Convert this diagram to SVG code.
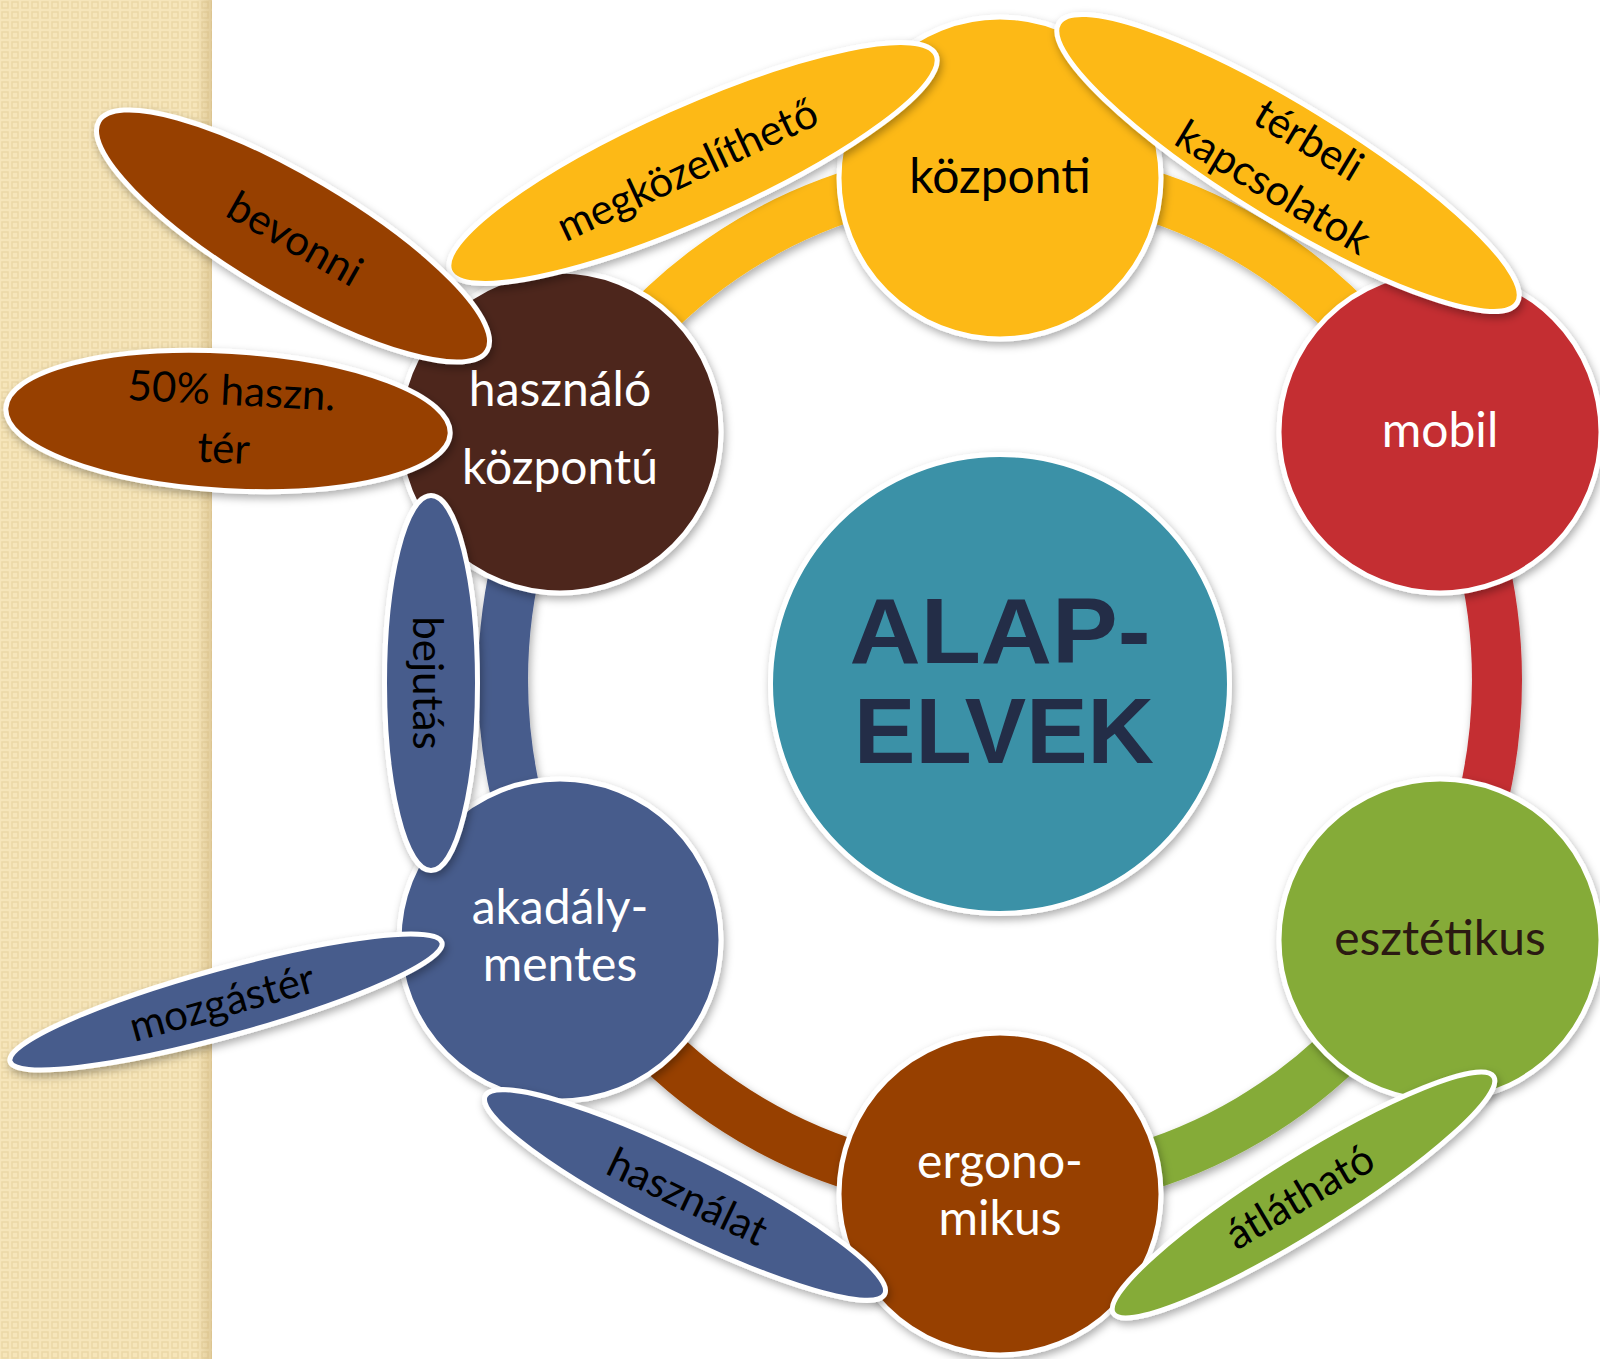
<svg xmlns="http://www.w3.org/2000/svg" width="1600" height="1359" viewBox="0 0 1600 1359">
<defs>
  <pattern id="weave" width="10" height="10" patternUnits="userSpaceOnUse">
    <rect width="10" height="10" fill="#F6E5BA"/>
    <rect x="2" y="2" width="6" height="6" fill="none" stroke="#ECD8A6" stroke-width="1.5"/>
  </pattern>
  <linearGradient id="edge" x1="0" x2="1" y1="0" y2="0">
    <stop offset="0" stop-color="#B99A5C" stop-opacity="0"/>
    <stop offset="1" stop-color="#B99A5C" stop-opacity="0.35"/>
  </linearGradient>
  <filter id="sh" x="-20%" y="-20%" width="140%" height="140%">
    <feDropShadow dx="2" dy="4" stdDeviation="4" flood-color="#000" flood-opacity="0.32"/>
  </filter>
</defs>
<style>
  .node{stroke:#fff;stroke-width:5}
  .t{font-family:Lato,"Open Sans","DejaVu Sans",sans-serif;text-anchor:middle}
  .nt{font-size:48px}
  .st{font-size:42px;fill:#000}
  .arc{fill:none;stroke-width:50}
  .w{fill:#fff}
  .big{font-family:"Liberation Sans",Arial,sans-serif;font-weight:bold;font-size:92px;fill:#232D47;text-anchor:middle}
</style>

<rect width="1600" height="1359" fill="#fff"/>
<rect x="0" y="0" width="212" height="1359" fill="url(#weave)"/>
<rect x="196" y="0" width="16" height="1359" fill="url(#edge)"/>

<g id="connectors" filter="url(#sh)">
  <path class="arc" stroke="#FDB913" d="M569.59,426 A497,508 0 0 1 1000,172"/>
  <path class="arc" stroke="#FDB913" d="M1000,172 A497,508 0 0 1 1430.41,426"/>
  <path class="arc" stroke="#C42D32" d="M1430.41,426 A497,508 0 0 1 1430.41,934"/>
  <path class="arc" stroke="#85AB37" d="M1430.41,934 A497,508 0 0 1 1000,1188"/>
  <path class="arc" stroke="#974106" d="M1000,1188 A497,508 0 0 1 569.59,934"/>
  <path class="arc" stroke="#475B8C" d="M569.59,934 A497,508 0 0 1 569.59,426"/>
</g>

<g id="node-alapelvek">
  <circle class="node" cx="1000" cy="684" r="229.5" fill="#3A91A7" filter="url(#sh)"/>
  <text class="big" x="1000" y="663" textLength="301" lengthAdjust="spacingAndGlyphs">ALAP-</text>
  <text class="big" x="1004" y="763" textLength="300" lengthAdjust="spacingAndGlyphs">ELVEK</text>
</g>

<g id="node-kozponti">
  <circle class="node" cx="1000" cy="178" r="161" fill="#FDB913" filter="url(#sh)"/>
  <text class="t nt" x="1000" y="193" fill="#000" font-size="49">központi</text>
</g>
<g id="node-mobil">
  <circle class="node" cx="1440" cy="432" r="161" fill="#C42D32" filter="url(#sh)"/>
  <text class="t nt w" x="1440" y="447">mobil</text>
</g>
<g id="node-esztetikus">
  <circle class="node" cx="1440" cy="940" r="161" fill="#85AB37" filter="url(#sh)"/>
  <text class="t nt" x="1440" y="955" fill="#2B1A12">esztétikus</text>
</g>
<g id="node-ergonomikus">
  <circle class="node" cx="1000" cy="1194" r="161" fill="#974106" filter="url(#sh)"/>
  <text class="t nt w" x="1000" y="1178">ergono-</text>
  <text class="t nt w" x="1000" y="1235">mikus</text>
</g>
<g id="node-akadalymentes">
  <circle class="node" cx="560" cy="940" r="161" fill="#475B8C" filter="url(#sh)"/>
  <text class="t nt w" x="560" y="924">akadály-</text>
  <text class="t nt w" x="560" y="981">mentes</text>
</g>
<g id="node-hasznalo">
  <circle class="node" cx="560" cy="432" r="161" fill="#4E261E" filter="url(#sh)"/>
  <text class="t nt w" x="560" y="406">használó</text>
  <text class="t nt w" x="560" y="484">központú</text>
</g>

<g id="sat-megkozelitheto">
  <g filter="url(#sh)"><ellipse class="node" rx="266" ry="58" transform="translate(693 163) rotate(-24)" fill="#FDB913"/></g>
  <text class="t st" transform="translate(693 163) rotate(-25)" x="-8" y="18" font-size="45">megközelíthető</text>
</g>
<g id="sat-bevonni">
  <g filter="url(#sh)"><ellipse class="node" rx="225.5" ry="60.5" transform="translate(293 236) rotate(30.6)" fill="#974106"/></g>
  <text class="t st" transform="translate(293 236) rotate(29.5)" x="3" y="16">bevonni</text>
</g>
<g id="sat-50">
  <g filter="url(#sh)"><ellipse class="node" rx="222.5" ry="69.5" transform="translate(228 421) rotate(3.3)" fill="#974106"/></g>
  <text class="t st" transform="translate(228 421) rotate(3)" x="2" y="-16">50% haszn.</text>
  <text class="t st" transform="translate(228 421) rotate(3)" x="-3" y="42">tér</text>
</g>
<g id="sat-terbeli">
  <g filter="url(#sh)"><ellipse class="node" rx="268.5" ry="58.5" transform="translate(1288 163) rotate(31.4)" fill="#FDB913"/></g>
  <text class="t st" transform="translate(1288 163) rotate(31)" x="6" y="-16">térbeli</text>
  <text class="t st" transform="translate(1288 163) rotate(31)" x="0" y="43">kapcsolatok</text>
</g>
<g id="sat-bejutas">
  <g filter="url(#sh)"><ellipse class="node" rx="187.5" ry="46.5" transform="translate(431 683) rotate(90)" fill="#475B8C"/></g>
  <text class="t st" transform="translate(431 683) rotate(90)" x="0" y="18">bejutás</text>
</g>
<g id="sat-mozgaster">
  <g filter="url(#sh)"><ellipse class="node" rx="224" ry="34" transform="translate(226 1002) rotate(-15.4)" fill="#475B8C"/></g>
  <text class="t st" transform="translate(226 1002) rotate(-15.5)" x="-4" y="14" font-size="44">mozgástér</text>
</g>
<g id="sat-hasznalat">
  <g filter="url(#sh)"><ellipse class="node" rx="223" ry="39.5" transform="translate(685 1195) rotate(26.4)" fill="#475B8C"/></g>
  <text class="t st" transform="translate(685 1195) rotate(25.5)" x="3" y="15">használat</text>
</g>
<g id="sat-atlathato">
  <g filter="url(#sh)"><ellipse class="node" rx="224" ry="39" transform="translate(1303.5 1195) rotate(-31.9)" fill="#85AB37"/></g>
  <text class="t st" transform="translate(1303.5 1195) rotate(-30.5)" x="-4" y="14">átlátható</text>
</g>
</svg>
